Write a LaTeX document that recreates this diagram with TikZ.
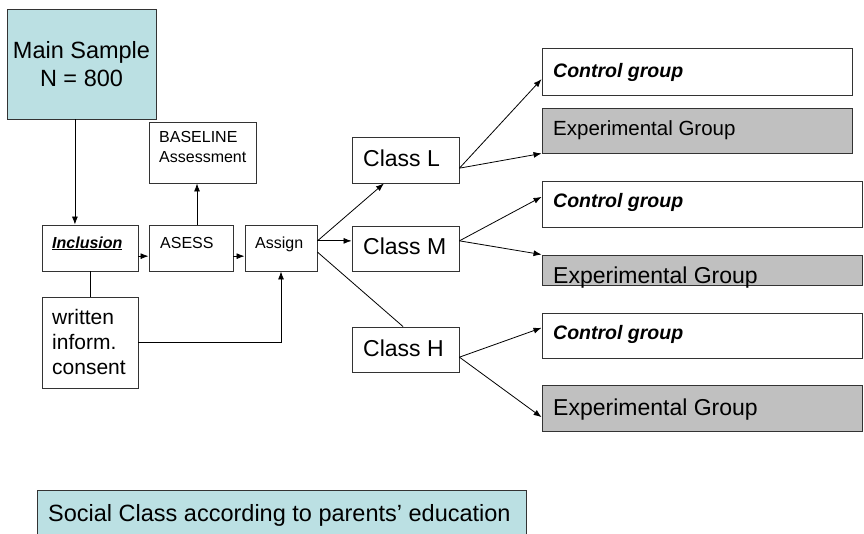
\documentclass[tikz,border=0pt]{standalone}
\usepackage{fontspec}
\setmainfont{Liberation Sans}
\usetikzlibrary{calc,arrows.meta}
\definecolor{sampleblue}{RGB}{187,224,227}
\definecolor{expgray}{RGB}{192,192,192}

\begin{document}
\begin{tikzpicture}[x=1pt,y=1pt,yscale=-1,xscale=1,
  box/.style={draw=black!80,line width=0.9pt,inner sep=0pt},
  conn/.style={line width=0.8pt},
  arr/.style={conn,-{Latex[length=8pt,width=6pt]}},
  lbl/.style={anchor=base west,inner sep=0pt},
  small/.style={font=\fontsize{16}{20}\selectfont},
  big/.style={font=\fontsize{23}{25}\selectfont}]
\useasboundingbox (0,0) rectangle (864,533);

%Main sample box
\node [box,fill=sampleblue,minimum width=149,minimum height=110,align=center,font=\fontsize{23.5}{28}\selectfont] (sample) at (81.5,64) {Main Sample\\N = 800};
%Baseline assessment
\node [box,minimum width=107,minimum height=61] (baseline) at (202.5,152.5) {};
%Row of small boxes
\node [box,minimum width=96,minimum height=46] (inclusion) at (90,248) {};
\node [box,minimum width=84,minimum height=46] (asess) at (191,248) {};
\node [box,minimum width=72,minimum height=46] (assign) at (281,248) {};
\node [box,minimum width=96,minimum height=91] (consent) at (90,342.5) {};
%Classes
\node [box,minimum width=107,minimum height=46] (classL) at (405.5,160) {};
\node [box,minimum width=107,minimum height=45] (classM) at (405.5,248.5) {};
\node [box,minimum width=107,minimum height=45] (classH) at (405.5,349.5) {};
%Groups
\node [box,minimum width=310,minimum height=47] (ctrlL) at (697,71.5) {};
\node [box,fill=expgray,minimum width=310,minimum height=45] (expL) at (697,130.5) {};
\node [box,minimum width=320,minimum height=46] (ctrlM) at (702,204) {};
\node [box,fill=expgray,minimum width=320,minimum height=30] (expM) at (702,270) {};
\node [box,minimum width=320,minimum height=45] (ctrlH) at (702,335.5) {};
\node [box,fill=expgray,minimum width=320,minimum height=46] (expH) at (702,408) {};
%Legend (runs off the bottom edge)
\node [box,fill=sampleblue,minimum width=489,minimum height=48] (social) at (281.5,514) {};

% Text Nodes
\node [lbl,small,anchor=north west,align=left] (baselineT) at (159,131.5) {BASELINE\\Assessment};
\node [lbl,small] (inclusionT) at (52,248) {\textbf{\textit{\underline{Inclusion}}}};
\node [lbl,small] (asessT) at (160,248) {ASESS};
\node [lbl,small] (assignT) at (255,248) {Assign};
\node [lbl,anchor=north west,align=left,font=\fontsize{21}{25}\selectfont] (consentT) at (52,309) {written\\inform.\\consent};
\node [lbl,big] (classLT) at (363,166) {Class L};
\node [lbl,big] (classMT) at (363,254) {Class M};
\node [lbl,big] (classHT) at (363,356) {Class H};
\node [lbl,font=\fontsize{19.5}{22}\selectfont\bfseries\itshape] (ctrlLT) at (553,77) {Control group};
\node [lbl,font=\fontsize{20.5}{22}\selectfont] (expLT) at (553,135.5) {Experimental Group};
\node [lbl,font=\fontsize{19.5}{22}\selectfont\bfseries\itshape] (ctrlMT) at (553,207) {Control group};
\node [lbl,big] (expMT) at (553,283.5) {Experimental Group};
\node [lbl,font=\fontsize{19.5}{22}\selectfont\bfseries\itshape] (ctrlHT) at (553,339) {Control group};
\node [lbl,big] (expHT) at (553,415) {Experimental Group};
\node [lbl,font=\fontsize{23.5}{26}\selectfont] (socialT) at (48,521.5) {Social Class according to parents’ education};

% Connectors
\draw [arr] ($(sample.south west)!0.456!(sample.south east)$) coordinate (s0) -- (s0 |- inclusion.north);
\draw [arr] ($(asess.north west)!0.571!(asess.north east)$) coordinate (s1) -- (s1 |- baseline.south);
\draw [arr] ($(inclusion.north east)!0.674!(inclusion.south east)$) coordinate (s2) -- (s2 -| asess.west);
\draw [arr] ($(asess.north east)!0.674!(asess.south east)$) coordinate (s3) -- (s3 -| assign.west);
\draw [conn] (inclusion) -- (consent);
\draw [arr] (consent.east) -| (assign.south);
\draw [arr] ($(assign.north east)!0.348!(assign.south east)$) coordinate (s4) -- (s4 -| classM.west);
\draw [arr] (s4) -- ($(classL.south west)!0.3!(classL.south east)$);
\draw [conn] ($(assign.north east)!0.587!(assign.south east)$) -- ($(classH.north west)!0.477!(classH.north east)$);
\draw [arr] ($(classL.north east)!0.674!(classL.south east)$) coordinate (s5) -- ($(ctrlL.north west)!0.66!(ctrlL.south west)$);
\draw [arr] (s5) -- (expL.south west);
\draw [arr] ($(classM.north east)!0.333!(classM.south east)$) coordinate (s6) -- ($(ctrlM.north west)!0.348!(ctrlM.south west)$);
\draw [arr] (s6) -- (expM.north west);
\draw [arr] ($(classH.north east)!0.667!(classH.south east)$) coordinate (s7) -- ($(ctrlH.north west)!0.333!(ctrlH.south west)$);
\draw [arr] (s7) -- ($(expH.north west)!0.696!(expH.south west)$);
\end{tikzpicture}
\end{document}
